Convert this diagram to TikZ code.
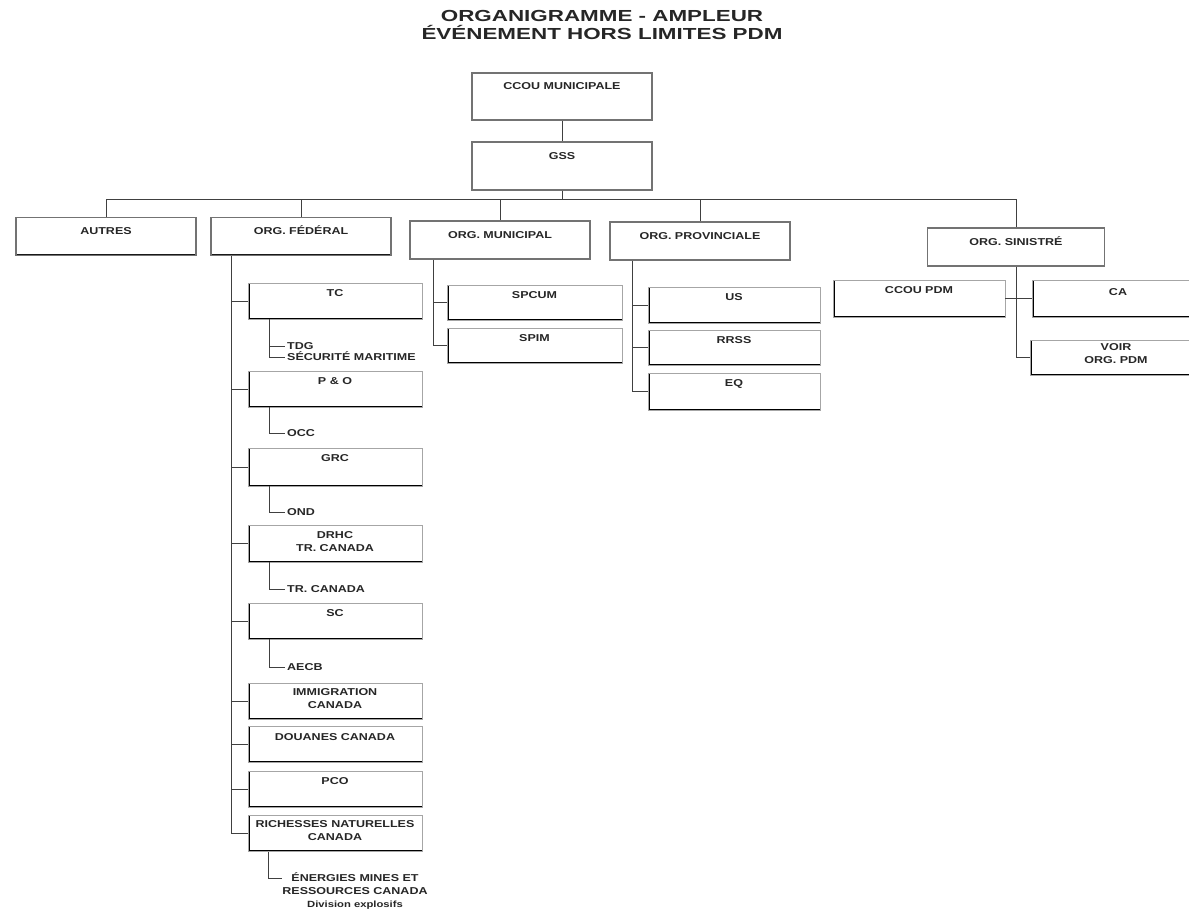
\documentclass[tikz,border=0pt]{standalone}
\usepackage{fontspec}
\setmainfont{Liberation Sans}[FakeStretch=1.25]
\newfontfamily\titlefont{Liberation Sans}[FakeStretch=1.4]
\usetikzlibrary{positioning}

\begin{document}
\begin{tikzpicture}[x=1pt,y=-1pt,
		every node/.style={text=black!85},
		conn/.style={draw=black!75,line width=0.9pt},
		topbox/.style={draw=black!55,line width=1.8pt,minimum width=180pt,minimum height=38pt,inner sep=0pt,
			path picture={\draw[black!90,line width=3pt] (path picture bounding box.south west) -- (path picture bounding box.south east);}},
		subbox/.style={draw=black!35,line width=0.5pt,minimum width=174pt,minimum height=36pt,inner sep=0pt,
			path picture={\draw[black,line width=3pt] (path picture bounding box.north west) -- (path picture bounding box.south west) -- (path picture bounding box.south east);}},
		lbl/.style={font=\fontsize{10}{13}\selectfont\bfseries,inner sep=0pt,text height=7.2pt},
		twoline/.style={font=\fontsize{10}{13}\selectfont\bfseries,inner sep=0pt,align=center},
		item/.style={lbl,anchor=west,inner xsep=2pt},
		titre/.style={font=\titlefont\fontsize{16}{16}\selectfont\bfseries,anchor=base,inner sep=0pt}]
		\useasboundingbox (0,0) rectangle (1189,914);

		\node[titre] (t1) at (602,21) {ORGANIGRAMME - AMPLEUR};
		\node[titre] (t2) at (602,39.5) {ÉVÉNEMENT HORS LIMITES PDM};

		\node[topbox,minimum height=47pt] (ccou) at (562,96.5) {};
		\node[lbl,below=10pt of ccou.north] {CCOU MUNICIPALE};
		\node[topbox,minimum height=48pt] (gss) at (562,166) {};
		\node[lbl,below=11pt of gss.north] {GSS};

		\node[topbox] (autres) at (106,236.5) {};
		\node[lbl,below=10pt of autres.north] {AUTRES};
		\node[topbox] (fed) at (301,236.5) {};
		\node[lbl,below=10pt of fed.north] {ORG. FÉDÉRAL};
		\node[topbox] (mun) at (500,240) {};
		\node[lbl,below=11pt of mun.north] {ORG. MUNICIPAL};
		\node[topbox] (prov) at (700,241) {};
		\node[lbl,below=11pt of prov.north] {ORG. PROVINCIALE};
		\node[topbox,minimum width=177pt] (sin) at (1016,247) {};
		\node[lbl,below=11pt of sin.north] {ORG. SINISTRÉ};

		\draw[conn] (ccou.south) -- (gss.north);
		\draw[conn] (gss.south) -- ++(0,9) -| (autres.north);
		\draw[conn] (gss.south) -- ++(0,9) -| (fed.north);
		\draw[conn] (gss.south) -- ++(0,9) -| (mun.north);
		\draw[conn] (gss.south) -- ++(0,9) -| (prov.north);
		\draw[conn] (gss.south) -- ++(0,9) -| (sin.north);

		\node[subbox] (tc) at (335,301) {};
		\node[lbl,below=6.5pt of tc.north] {TC};
		\node[subbox] (po) at (335,389) {};
		\node[lbl,below=6.5pt of po.north] {P \& O};
		\node[subbox,minimum height=38pt] (grc) at (335,467) {};
		\node[lbl,below=6.5pt of grc.north] {GRC};
		\node[subbox,minimum height=37pt] (drhc) at (335,543.5) {};
		\node[twoline,below=6.5pt of drhc.north] {DRHC\\TR. CANADA};
		\node[subbox] (sc) at (335,621) {};
		\node[lbl,below=6.5pt of sc.north] {SC};
		\node[subbox] (immi) at (335,701) {};
		\node[twoline,below=5.5pt of immi.north] {IMMIGRATION\\CANADA};
		\node[subbox] (douanes) at (335,744.5) {};
		\node[lbl,below=6.5pt of douanes.north] {DOUANES CANADA};
		\node[subbox] (pco) at (335,789) {};
		\node[lbl,below=6.5pt of pco.north] {PCO};
		\node[subbox] (rnc) at (335,833.5) {};
		\node[twoline,below=5.5pt of rnc.north] {RICHESSES NATURELLES\\CANADA};

		\draw[conn] ([xshift=21pt]fed.south west) |- (tc.west);
		\draw[conn] ([xshift=21pt]fed.south west) |- (po.west);
		\draw[conn] ([xshift=21pt]fed.south west) |- (grc.west);
		\draw[conn] ([xshift=21pt]fed.south west) |- (drhc.west);
		\draw[conn] ([xshift=21pt]fed.south west) |- (sc.west);
		\draw[conn] ([xshift=21pt]fed.south west) |- (immi.west);
		\draw[conn] ([xshift=21pt]fed.south west) |- (douanes.west);
		\draw[conn] ([xshift=21pt]fed.south west) |- (pco.west);
		\draw[conn] ([xshift=21pt]fed.south west) |- (rnc.west);

		\node[item] (tdg) at (285,346) {TDG};
		\node[item] (secmar) at (285,357) {SÉCURITÉ MARITIME};
		\node[item] (occ) at (285,433) {OCC};
		\node[item] (ond) at (285,512) {OND};
		\node[item] (trc) at (285,589) {TR. CANADA};
		\node[item] (aecb) at (285,667) {AECB};
		\node[twoline,anchor=north] (ener) at (355,872.5) {ÉNERGIES MINES ET\\RESSOURCES CANADA\\{\fontsize{9}{12}\selectfont Division explosifs}};

		\draw[conn] ([xshift=22pt]tc.south west) |- (tdg.west);
		\draw[conn] ([xshift=22pt]tc.south west) |- (secmar.west);
		\draw[conn] ([xshift=22pt]po.south west) |- (occ.west);
		\draw[conn] ([xshift=22pt]grc.south west) |- (ond.west);
		\draw[conn] ([xshift=22pt]drhc.south west) |- (trc.west);
		\draw[conn] ([xshift=22pt]sc.south west) |- (aecb.west);
		\draw[conn] ([xshift=21pt]rnc.south west) |- ([yshift=-6pt]ener.north west);

		\node[subbox,minimum width=175pt,minimum height=35pt] (spcum) at (534.5,302.5) {};
		\node[lbl,below=6.5pt of spcum.north] {SPCUM};
		\node[subbox,minimum width=175pt,minimum height=35pt] (spim) at (534.5,345.5) {};
		\node[lbl,below=6.5pt of spim.north] {SPIM};
		\draw[conn] ([xshift=24pt]mun.south west) |- (spcum.west);
		\draw[conn] ([xshift=24pt]mun.south west) |- (spim.west);

		\node[subbox,minimum width=172pt] (us) at (734,305) {};
		\node[lbl,below=6.5pt of us.north] {US};
		\node[subbox,minimum width=172pt,minimum height=35pt] (rrss) at (734,347.5) {};
		\node[lbl,below=6.5pt of rrss.north] {RRSS};
		\node[subbox,minimum width=172pt,minimum height=37pt] (eq) at (734,391.5) {};
		\node[lbl,below=6.5pt of eq.north] {EQ};
		\draw[conn] ([xshift=23pt]prov.south west) |- (us.west);
		\draw[conn] ([xshift=23pt]prov.south west) |- (rrss.west);
		\draw[conn] ([xshift=23pt]prov.south west) |- (eq.west);

		\node[subbox,minimum width=172pt,minimum height=37pt] (ccoupdm) at (919,298.5) {};
		\node[lbl,below=6.5pt of ccoupdm.north] {CCOU PDM};
		\node[subbox,minimum width=172pt,minimum height=37pt] (ca) at (1118,298.5) {};
		\node[lbl,below=8pt of ca.north] {CA};
		\node[subbox,minimum width=172pt,minimum height=35pt] (voir) at (1116,357.5) {};
		\node[twoline,below=4pt of voir.north] {VOIR\\ORG. PDM};
		\draw[conn] (sin.south) |- (ccoupdm.east);
		\draw[conn] (sin.south) |- (ca.west);
		\draw[conn] (sin.south) |- (voir.west);
	\end{tikzpicture}
\end{document}
